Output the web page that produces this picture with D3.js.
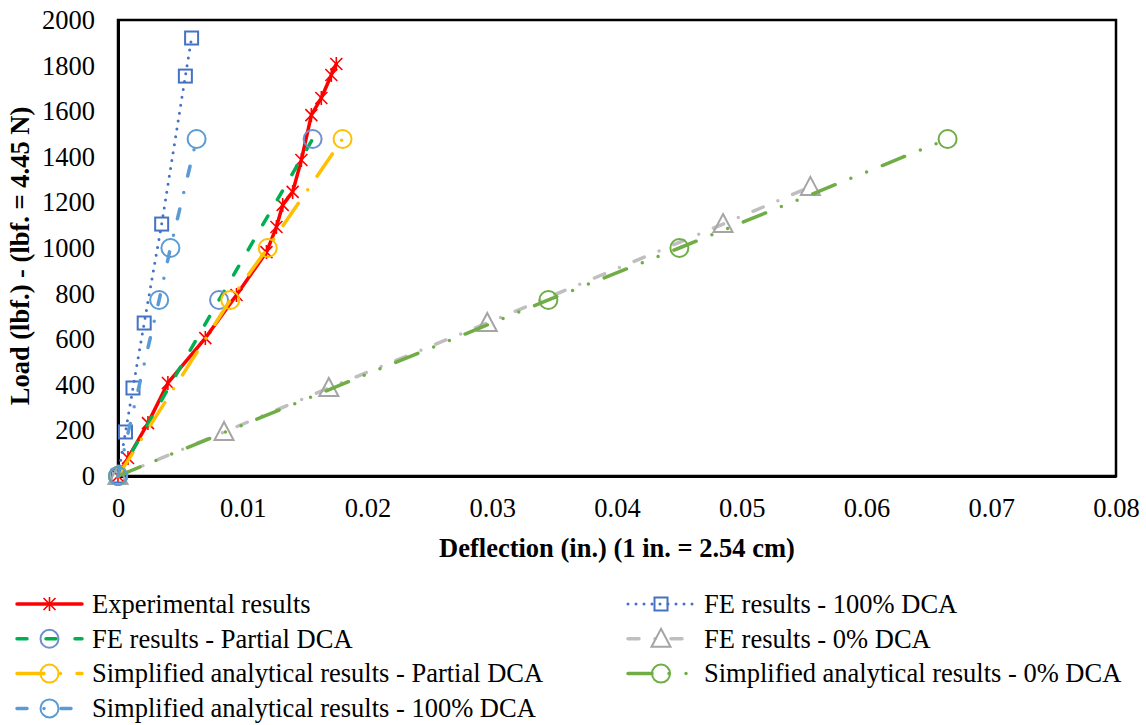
<!DOCTYPE html>
<html>
<head>
<meta charset="utf-8">
<script src="https://cdn.jsdelivr.net/npm/d3@7"></script>
<style>
  body { margin: 0; background: #fff; }
</style>
</head>
<body>
<div id="plot-container"></div>
<script>
// Values (deflection in in., load in lbf)
const expX = [0, 0.0008, 0.0024, 0.0040, 0.0070, 0.0095, 0.0119, 0.0127, 0.0132, 0.0140, 0.0147, 0.0155, 0.0163, 0.0171, 0.0175];
const expY = [0, 79, 232, 408, 605, 794, 982, 1092, 1189, 1246, 1386, 1583, 1658, 1759, 1807];

const fe100X = [0, 0.0006, 0.0012, 0.0021, 0.0035, 0.0054, 0.0059];
const fe100Y = [0, 193, 386, 671, 1105, 1754, 1921];

const fePartX = [0, 0.0081, 0.0156];
const fePartY = [0, 772, 1478];

const fe0X = [0, 0.0085, 0.0169, 0.0296, 0.0485, 0.0555];
const fe0Y = [0, 193, 386, 671, 1105, 1268];

const anaPartX = [0, 0.0090, 0.0120, 0.0180];
const ana0X = [0, 0.0345, 0.0450, 0.0665];
const ana100X = [0, 0.0033, 0.0042, 0.0063];
const anaY = [0, 772, 1000, 1478];

const xTicks = [0, 0.01, 0.02, 0.03, 0.04, 0.05, 0.06, 0.07, 0.08];
const yTicks = [0, 200, 400, 600, 800, 1000, 1200, 1400, 1600, 1800, 2000];

const series = [
  { name: "Experimental results", xs: expX, ys: expY, color: "#FF0000", dash: null, width: 3.5, marker: "star", mColor: "#FF0000" },
  { name: "FE results - 100% DCA", xs: fe100X, ys: fe100Y, color: "#4472C4", dash: "0 8", width: 3, marker: "square", mColor: "#4472C4" },
  { name: "FE results - Partial DCA", xs: fePartX, ys: fePartY, color: "#00B050", dash: "10 19", width: 3.5, marker: "circle", mColor: "#6F8FCF" },
  { name: "FE results - 0% DCA", xs: fe0X, ys: fe0Y, color: "#BFBFBF", dash: "11 16 0 16", width: 3.5, marker: "triangle", mColor: "#A5A5A5" },
  { name: "Simplified analytical results - Partial DCA", xs: anaPartX, ys: anaY, color: "#FFC000", dash: "27 16.5 0 16.5", width: 3.5, marker: "circle", mColor: "#FFC000" },
  { name: "Simplified analytical results - 0% DCA", xs: ana0X, ys: anaY, color: "#70AD47", dash: "24 17 0 17 0 17", width: 3.5, marker: "circle", mColor: "#70AD47" },
  { name: "Simplified analytical results - 100% DCA", xs: ana100X, ys: anaY, color: "#5B9BD5", dash: "10 17 0 17", width: 3.5, marker: "circle", mColor: "#5B9BD5" }
];

// Legend layout: slot [column, row]
const legendSlots = [[0, 0], [1, 0], [0, 1], [1, 1], [0, 2], [1, 2], [0, 3]];

const FONT = "Liberation Serif";
const W = 1146, H = 725;
const margin = { top: 20, right: 30, bottom: 249, left: 118 };
const width = 1116 - margin.left;
const height = 476 - margin.top;

const svg = d3.select("#plot-container")
    .append("svg")
    .attr("width", W)
    .attr("height", H)
    .attr("font-family", FONT);

const g = svg.append("g")
    .attr("transform", `translate(${margin.left},${margin.top})`);

const x = d3.scaleLinear().domain([0, 0.08]).range([0, width]);
const y = d3.scaleLinear().domain([0, 2000]).range([height, 0]);

// plot frame
g.append("rect")
    .attr("width", width)
    .attr("height", height)
    .attr("fill", "none")
    .attr("stroke", "#000")
    .attr("stroke-width", 2.5);

// axes (labels only, no tick marks)
const xAxis = g.append("g")
    .attr("transform", `translate(0,${height})`)
    .call(d3.axisBottom(x).tickValues(xTicks).tickSize(0).tickPadding(22)
        .tickFormat(d => d === 0 ? "0" : d3.format(".2f")(d)));
const yAxis = g.append("g")
    .call(d3.axisLeft(y).tickValues(yTicks).tickSize(0).tickPadding(23)
        .tickFormat(d3.format("d")));
[xAxis, yAxis].forEach(a => {
  a.attr("font-family", FONT).attr("font-size", 26.5);
  a.select(".domain").attr("stroke", "#000").attr("stroke-width", 3);
  a.selectAll("text").attr("fill", "#000");
});

// axis titles
svg.append("text")
    .attr("x", 617)
    .attr("y", 557)
    .attr("text-anchor", "middle")
    .attr("font-size", 26.5)
    .attr("font-weight", "bold")
    .text("Deflection (in.) (1 in. = 2.54 cm)");

svg.append("text")
    .attr("transform", "translate(29,256) rotate(-90)")
    .attr("text-anchor", "middle")
    .attr("font-size", 26.5)
    .attr("font-weight", "bold")
    .text("Load (lbf.) - (lbf. = 4.45 N)");

function drawMarker(sel, type, color) {
  if (type === "star") {
    sel.append("path")
      .attr("d", "M-6,-6L6,6M-6,6L6,-6M0,-7L0,7")
      .attr("stroke", color).attr("stroke-width", 1.6).attr("fill", "none");
  } else if (type === "square") {
    sel.append("rect")
      .attr("x", -6.5).attr("y", -6.5).attr("width", 13).attr("height", 13)
      .attr("stroke", color).attr("stroke-width", 2).attr("fill", "none");
  } else if (type === "circle") {
    sel.append("circle")
      .attr("r", 9)
      .attr("stroke", color).attr("stroke-width", 2).attr("fill", "none");
  } else if (type === "triangle") {
    sel.append("path")
      .attr("d", "M0,-10L9.5,8L-9.5,8Z")
      .attr("stroke", color).attr("stroke-width", 2).attr("fill", "none");
  }
}

const line = d3.line().x(d => x(d[0])).y(d => y(d[1]));

series.forEach(s => {
  const pts = s.xs.map((v, i) => [v, s.ys[i]]);
  g.append("path")
    .datum(pts)
    .attr("d", line)
    .attr("fill", "none")
    .attr("stroke", s.color)
    .attr("stroke-width", s.width)
    .attr("stroke-linecap", "round")
    .attr("stroke-linejoin", "round")
    .attr("stroke-dasharray", s.dash);
  g.selectAll(null)
    .data(pts)
    .enter()
    .append("g")
    .attr("transform", d => `translate(${x(d[0])},${y(d[1])})`)
    .each(function () { drawMarker(d3.select(this), s.marker, s.mColor); });
});

// legend
const legend = svg.append("g");
series.forEach((s, i) => {
  const [col, row] = legendSlots[i];
  const x0 = col === 0 ? 17 : 628;
  const len = col === 0 ? 65 : 66;
  const cy = 604 + row * 34.8;
  const item = legend.append("g");
  item.append("line")
    .attr("x1", x0).attr("x2", x0 + len)
    .attr("y1", cy).attr("y2", cy)
    .attr("stroke", s.color)
    .attr("stroke-width", s.width)
    .attr("stroke-linecap", "round")
    .attr("stroke-dasharray", s.dash);
  drawMarker(item.append("g").attr("transform", `translate(${x0 + len / 2},${cy})`), s.marker, s.mColor);
  item.append("text")
    .attr("x", x0 + len + 10)
    .attr("y", cy)
    .attr("dy", "0.33em")
    .attr("font-size", 26.5)
    .text(s.name);
});
</script>
</body>
</html>
